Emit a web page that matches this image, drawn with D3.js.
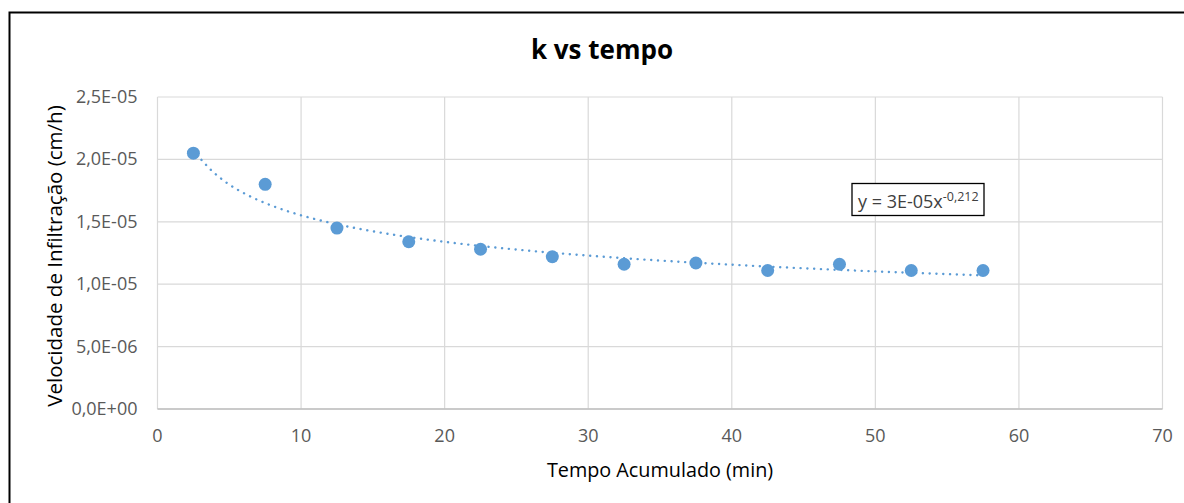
<!DOCTYPE html>
<html>
<head>
<meta charset="utf-8">
<script src="https://cdn.jsdelivr.net/npm/d3@7"></script>
<style>
  body { margin: 0; background: #fff; }
  svg { font-family: "Open Sans", sans-serif; }
</style>
</head>
<body>
<div id="chart"></div>
<script>
(function () {
  // tempo acumulado (min) e velocidade de infiltração (cm/h)
  const tempo = [2.5, 7.5, 12.5, 17.5, 22.5, 27.5, 32.5, 37.5, 42.5, 47.5, 52.5, 57.5];
  const velocidade = [2.05e-5, 1.80e-5, 1.45e-5, 1.34e-5, 1.28e-5, 1.22e-5, 1.16e-5, 1.17e-5, 1.11e-5, 1.16e-5, 1.11e-5, 1.11e-5];
  const xTicks = [0, 10, 20, 30, 40, 50, 60, 70];
  const yTicks = [0, 5e-6, 1e-5, 1.5e-5, 2e-5, 2.5e-5];

  const width = 1184, height = 503;
  const margin = { left: 157.5, right: 1184 - 1162.5, top: 97, bottom: 503 - 409 };
  const blue = "#5b9bd5";

  const svg = d3.select("#chart").append("svg")
    .attr("width", width)
    .attr("height", height);

  // outer chart border (only top and left visible in the crop)
  svg.append("rect")
    .attr("x", 9.5).attr("y", 12.5)
    .attr("width", width + 20).attr("height", height + 20)
    .attr("fill", "#fff")
    .attr("stroke", "#000")
    .attr("stroke-width", 2);

  const x = d3.scaleLinear().domain([0, 70]).range([margin.left, width - margin.right]);
  const y = d3.scaleLinear().domain([0, 2.5e-5]).range([height - margin.bottom, margin.top]);

  // gridlines
  svg.append("g")
    .selectAll("line")
    .data(xTicks)
    .join("line")
    .attr("x1", d => x(d)).attr("x2", d => x(d))
    .attr("y1", y(0)).attr("y2", y(2.5e-5))
    .attr("stroke", "#d9d9d9")
    .attr("stroke-width", 1.2);

  svg.append("g")
    .selectAll("line")
    .data(yTicks)
    .join("line")
    .attr("x1", x(0)).attr("x2", x(70))
    .attr("y1", d => y(d)).attr("y2", d => y(d))
    .attr("stroke", "#d9d9d9")
    .attr("stroke-width", 1.2);

  // bottom axis line
  svg.append("line")
    .attr("x1", x(0)).attr("x2", x(70))
    .attr("y1", y(0)).attr("y2", y(0))
    .attr("stroke", "#bfbfbf")
    .attr("stroke-width", 1.3);

  // tick labels
  const fmtY = d => d3.format(".1e")(d).replace(".", ",").toUpperCase()
    .replace(/E([+-])(\d)$/, "E$10$2");

  svg.append("g")
    .selectAll("text")
    .data(xTicks)
    .join("text")
    .attr("x", d => x(d))
    .attr("y", y(0) + 33)
    .attr("text-anchor", "middle")
    .attr("fill", "#595959")
    .attr("font-size", 18)
    .text(d => d);

  svg.append("g")
    .selectAll("text")
    .data(yTicks)
    .join("text")
    .attr("x", x(0) - 20)
    .attr("y", d => y(d) + 6)
    .attr("text-anchor", "end")
    .attr("fill", "#595959")
    .attr("font-size", 18)
    .text(fmtY);

  // power trendline fitted in log space (Excel style)
  const lx = tempo.map(Math.log), ly = velocidade.map(Math.log);
  const mx = d3.mean(lx), my = d3.mean(ly);
  const b = d3.sum(lx, (v, i) => (v - mx) * (ly[i] - my)) / d3.sum(lx, v => (v - mx) * (v - mx));
  const a = Math.exp(my - b * mx);
  const trend = d3.range(0, 101).map(i => {
    const t = tempo[0] + (tempo[tempo.length - 1] - tempo[0]) * i / 100;
    return [t, a * Math.pow(t, b)];
  });

  svg.append("path")
    .datum(trend)
    .attr("fill", "none")
    .attr("stroke", blue)
    .attr("stroke-width", 2.4)
    .attr("stroke-linecap", "round")
    .attr("stroke-dasharray", "0.1 6.7")
    .attr("d", d3.line().x(d => x(d[0])).y(d => y(d[1])));

  // points
  svg.append("g")
    .selectAll("circle")
    .data(tempo)
    .join("circle")
    .attr("cx", d => x(d))
    .attr("cy", (d, i) => y(velocidade[i]))
    .attr("r", 6.5)
    .attr("fill", blue);

  // equation label
  svg.append("rect")
    .attr("x", 852).attr("y", 183.5)
    .attr("width", 132).attr("height", 32)
    .attr("fill", "#fff")
    .attr("stroke", "#000")
    .attr("stroke-width", 1.3);

  const eq = svg.append("text")
    .attr("x", 858).attr("y", 208)
    .attr("fill", "#404040")
    .attr("font-size", 18);
  eq.append("tspan").text("y = 3E-05x");
  eq.append("tspan").attr("font-size", 12.5).attr("dy", -7).text("-0,212");

  // title
  svg.append("text")
    .attr("x", 602).attr("y", 59)
    .attr("text-anchor", "middle")
    .attr("font-size", 26)
    .attr("font-weight", "bold")
    .attr("fill", "#000")
    .text("k vs tempo");

  // axis titles
  svg.append("text")
    .attr("x", (x(0) + x(70)) / 2)
    .attr("y", 477)
    .attr("text-anchor", "middle")
    .attr("font-size", 19.8)
    .attr("fill", "#000")
    .text("Tempo Acumulado (min)");

  svg.append("text")
    .attr("transform", "translate(62,256) rotate(-90)")
    .attr("text-anchor", "middle")
    .attr("font-size", 20.5)
    .attr("fill", "#000")
    .text("Velocidade de Infiltração (cm/h)");
})();
</script>
</body>
</html>
